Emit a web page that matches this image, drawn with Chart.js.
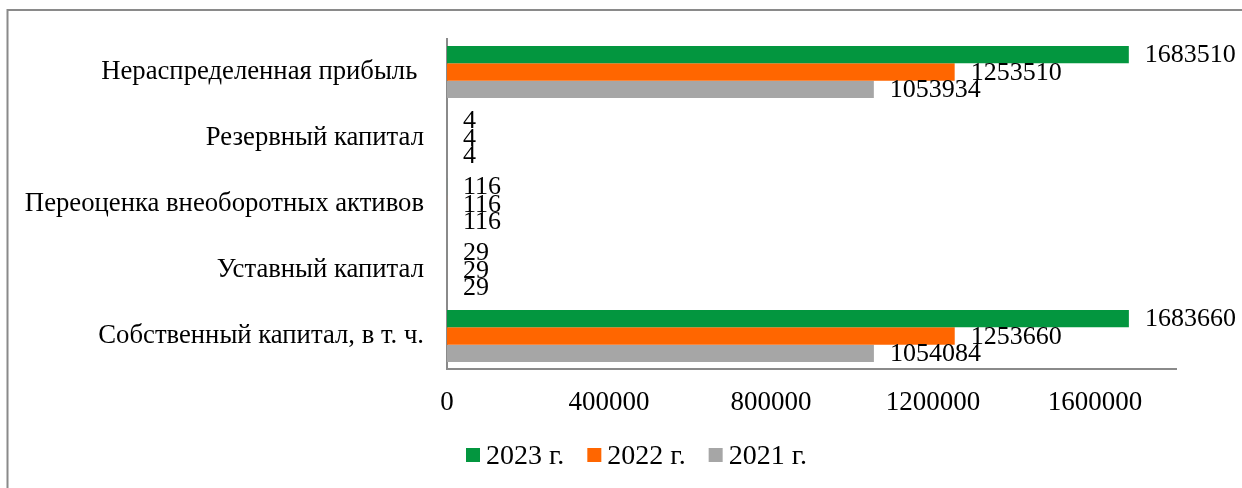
<!DOCTYPE html>
<html>
<head>
<meta charset="utf-8">
<script src="https://cdn.jsdelivr.net/npm/chart.js@4.4.1/dist/chart.umd.min.js"></script>
<style>
  html, body { margin: 0; padding: 0; background: #ffffff; }
  canvas { display: block; }
</style>
</head>
<body>
<canvas id="capitalChart" width="1242" height="488"></canvas>
<script>
// Структура собственного капитала, тыс. руб.
const categories = [
  'Нераспределенная прибыль ',
  'Резервный капитал',
  'Переоценка внеоборотных активов',
  'Уставный капитал',
  'Собственный капитал, в т. ч.'
];
const seriesLabels = ['2023 г.', '2022 г.', '2021 г.'];
const values2023 = [1683510, 4, 116, 29, 1683660];
const values2022 = [1253510, 4, 116, 29, 1253660];
const values2021 = [1053934, 4, 116, 29, 1054084];
const xTickValues = [0, 400000, 800000, 1200000, 1600000];
const xMax = 1800000;

const FONT = '"Liberation Serif", "Times New Roman", serif';
const seriesColors = ['#03963F', '#FF6600', '#A6A6A6'];
const lineColor = '#8a8a8a';

// white background and the outer frame (left and top edges)
const frame = {
  id: 'frame',
  beforeDraw(chart) {
    const ctx = chart.ctx;
    ctx.save();
    ctx.fillStyle = '#ffffff';
    ctx.fillRect(0, 0, chart.width, chart.height);
    ctx.strokeStyle = lineColor;
    ctx.lineWidth = 2;
    ctx.beginPath();
    ctx.moveTo(7.5, chart.height);
    ctx.lineTo(7.5, 10);
    ctx.lineTo(chart.width, 10);
    ctx.stroke();
    ctx.restore();
  }
};

// value printed right of each bar end
const valueLabels = {
  id: 'valueLabels',
  afterDatasetsDraw(chart) {
    const ctx = chart.ctx;
    ctx.save();
    ctx.font = '26px ' + FONT;
    ctx.fillStyle = '#000000';
    ctx.textAlign = 'left';
    ctx.textBaseline = 'middle';
    chart.data.datasets.forEach((ds, i) => {
      const meta = chart.getDatasetMeta(i);
      meta.data.forEach((bar, j) => {
        ctx.fillText(String(ds.data[j]), bar.x + 16, bar.y + 1);
      });
    });
    ctx.restore();
  }
};

// legend row under the axis
const legendRow = {
  id: 'legendRow',
  afterDraw(chart) {
    const ctx = chart.ctx;
    ctx.save();
    ctx.font = '28px ' + FONT;
    ctx.textAlign = 'left';
    ctx.textBaseline = 'middle';
    let x = 466;
    chart.data.datasets.forEach(ds => {
      ctx.fillStyle = ds.backgroundColor;
      ctx.fillRect(x, 448, 14, 14);
      x += 20;
      ctx.fillStyle = '#000000';
      ctx.fillText(ds.label, x, 457);
      x += ctx.measureText(ds.label).width + 23;
    });
    ctx.restore();
  }
};

new Chart(document.getElementById('capitalChart'), {
  type: 'bar',
  data: {
    labels: categories,
    datasets: [
      { label: seriesLabels[0], data: values2023, backgroundColor: seriesColors[0] },
      { label: seriesLabels[1], data: values2022, backgroundColor: seriesColors[1] },
      { label: seriesLabels[2], data: values2021, backgroundColor: seriesColors[2] }
    ]
  },
  options: {
    indexAxis: 'y',
    responsive: false,
    animation: false,
    devicePixelRatio: 1,
    layout: { padding: { top: 39, right: 66, left: 0, bottom: 0 } },
    datasets: { bar: { categoryPercentage: 0.79, barPercentage: 1, borderWidth: 0 } },
    plugins: { legend: { display: false }, tooltip: { enabled: false } },
    scales: {
      x: {
        min: 0,
        max: xMax,
        grid: { display: false, drawTicks: false },
        border: { display: true, color: lineColor, width: 2 },
        ticks: {
          color: '#000000',
          font: { family: FONT, size: 27 },
          padding: 18,
          autoSkip: false,
          maxRotation: 0,
          callback: value => String(value)
        },
        afterBuildTicks(scale) { scale.ticks = xTickValues.map(v => ({ value: v })); },
        afterFit(scale) { scale.height = 119; }
      },
      y: {
        grid: { display: false, drawTicks: false },
        border: { display: true, color: lineColor, width: 2 },
        ticks: {
          color: '#000000',
          font: { family: FONT, size: 26.7 },
          padding: 23,
          autoSkip: false
        },
        afterFit(scale) { scale.width = 447; }
      }
    }
  },
  plugins: [frame, valueLabels, legendRow]
});
</script>
</body>
</html>
